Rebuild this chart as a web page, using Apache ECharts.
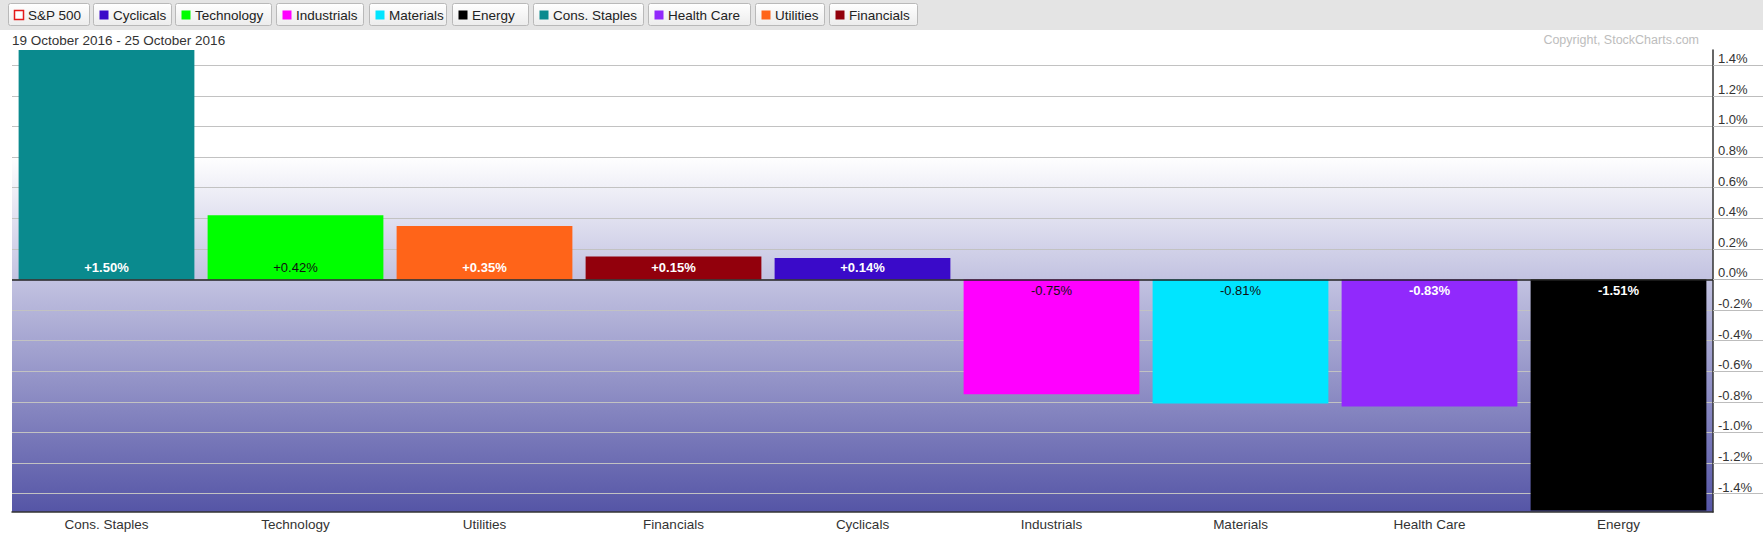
<!DOCTYPE html>
<html>
<head>
<meta charset="utf-8">
<script src="https://cdn.jsdelivr.net/npm/echarts@6/dist/echarts.min.js"></script>
<style>
html,body{margin:0;padding:0;background:#fff;}
#chart{width:1763px;height:537px;}
</style>
</head>
<body>
<div id="chart"></div>
<script>
// ---- data ----
var categories = ['Cons. Staples', 'Technology', 'Utilities', 'Financials', 'Cyclicals', 'Industrials', 'Materials', 'Health Care', 'Energy'];
var values = [1.50, 0.42, 0.35, 0.15, 0.14, -0.75, -0.81, -0.83, -1.51];
var tickValues = [-1.4, -1.2, -1.0, -0.8, -0.6, -0.4, -0.2, 0.0, 0.2, 0.4, 0.6, 0.8, 1.0, 1.2, 1.4];
var legendNames = ['S&P 500', 'Cyclicals', 'Technology', 'Industrials', 'Materials', 'Energy', 'Cons. Staples', 'Health Care', 'Utilities', 'Financials'];
var dateLabel = '19 October 2016 - 25 October 2016';
var copyrightLabel = 'Copyright, StockCharts.com';

// ---- styles ----
var sectorColors = {
  'S&P 500': '#e41a1a',
  'Cyclicals': '#3a0ac9',
  'Technology': '#00ff00',
  'Industrials': '#ff00ff',
  'Materials': '#00e5ff',
  'Energy': '#000000',
  'Cons. Staples': '#0a8a8e',
  'Health Care': '#9129fc',
  'Utilities': '#ff6419',
  'Financials': '#92000c'
};
var darkLabel = {'Technology': true, 'Industrials': true, 'Materials': true};
var FONT = 'Arial, "Liberation Sans", sans-serif';

// legend button layout (pixel boxes)
var btnLeft = [8, 93, 175, 276, 369, 452, 533, 648, 755, 829];
var btnRight = [89, 171, 271, 363, 446, 528, 643, 750, 824, 917];

var graphics = [
  {type: 'rect', shape: {x: 0, y: 0, width: 1763, height: 30}, style: {fill: '#e4e4e4'}, silent: true, z: 0}
];
legendNames.forEach(function (n, i) {
  var l = btnLeft[i], w = btnRight[i] - btnLeft[i];
  graphics.push({
    type: 'rect', shape: {x: l + 0.5, y: 3.5, width: w, height: 22, r: 2},
    style: {
      fill: new echarts.graphic.LinearGradient(0, 0, 0, 1, [{offset: 0, color: '#ffffff'}, {offset: 1, color: '#ececec'}]),
      stroke: '#b9b9b9', lineWidth: 1
    }, z: 1
  });
  var isIndex = (n === 'S&P 500');
  graphics.push({
    type: 'rect', shape: {x: l + 6.5, y: 10.5, width: 9, height: 9},
    style: {fill: isIndex ? '#ffffff' : sectorColors[n], stroke: isIndex ? sectorColors[n] : null, lineWidth: isIndex ? 1.5 : 0}, z: 2
  });
  graphics.push({
    type: 'text', x: l + 20, y: 15,
    style: {text: n, fill: '#222', font: '13.5px ' + FONT, verticalAlign: 'middle', align: 'left'}, z: 2
  });
});
graphics.push({type: 'text', x: 12, y: 40, style: {text: dateLabel, fill: '#333', font: '13.5px ' + FONT, verticalAlign: 'middle', align: 'left'}, z: 2});
graphics.push({type: 'text', x: 1699, y: 40, style: {text: copyrightLabel, fill: '#bdbdbd', font: '12.5px ' + FONT, verticalAlign: 'middle', align: 'right'}, z: 2});

var barData = values.map(function (v, i) {
  var c = categories[i];
  return {
    value: v,
    itemStyle: {color: sectorColors[c]},
    label: {
      position: v >= 0 ? 'insideBottom' : 'insideTop',
      color: darkLabel[c] ? '#111' : '#ffffff',
      fontWeight: darkLabel[c] ? 'normal' : 'bold'
    }
  };
});

var chart = echarts.init(document.getElementById('chart'), null, {renderer: 'svg'});
chart.setOption({
  animation: false,
  backgroundColor: '#ffffff',
  textStyle: {fontFamily: FONT},
  graphic: graphics,
  grid: {
    left: 12, right: 50, top: 50, bottom: 25,
    show: true, borderWidth: 0,
    backgroundColor: new echarts.graphic.LinearGradient(0, 0, 0, 1, [
      {offset: 0, color: '#ffffff'},
      {offset: 0.23, color: '#ffffff'},
      {offset: 0.495, color: '#c3c3e1'},
      {offset: 1, color: '#5555a6'}
    ])
  },
  xAxis: {
    type: 'category',
    data: categories,
    position: 'bottom',
    axisLine: {onZero: false, lineStyle: {color: '#333', width: 1.5}},
    axisTick: {show: false},
    axisLabel: {color: '#333', fontSize: 13.5, margin: 5, interval: 0, fontFamily: FONT},
    splitLine: {show: false}
  },
  yAxis: {
    type: 'value',
    position: 'right',
    min: -1.52,
    max: 1.5,
    axisLine: {show: true, lineStyle: {color: '#333', width: 1.5}},
    axisTick: {show: true, customValues: tickValues, length: 50, lineStyle: {color: '#bdbdbd'}},
    axisLabel: {
      customValues: tickValues,
      color: '#333', fontSize: 13, margin: 5, align: 'left', verticalAlign: 'bottom', fontFamily: FONT,
      formatter: function (v) { return v.toFixed(1) + '%'; }
    },
    splitLine: {show: true, lineStyle: {color: '#c2c2c2', width: 1}}
  },
  series: [{
    type: 'bar',
    data: barData,
    barWidth: '93%',
    clip: false,
    label: {
      show: true, fontSize: 13, distance: 5, fontFamily: FONT,
      formatter: function (p) { var v = p.value; return (v > 0 ? '+' : '') + v.toFixed(2) + '%'; }
    },
    markLine: {
      silent: true, symbol: 'none',
      lineStyle: {color: '#222', width: 1.5, type: 'solid'},
      label: {show: false},
      data: [{yAxis: 0}]
    }
  }]
});
</script>
</body>
</html>
